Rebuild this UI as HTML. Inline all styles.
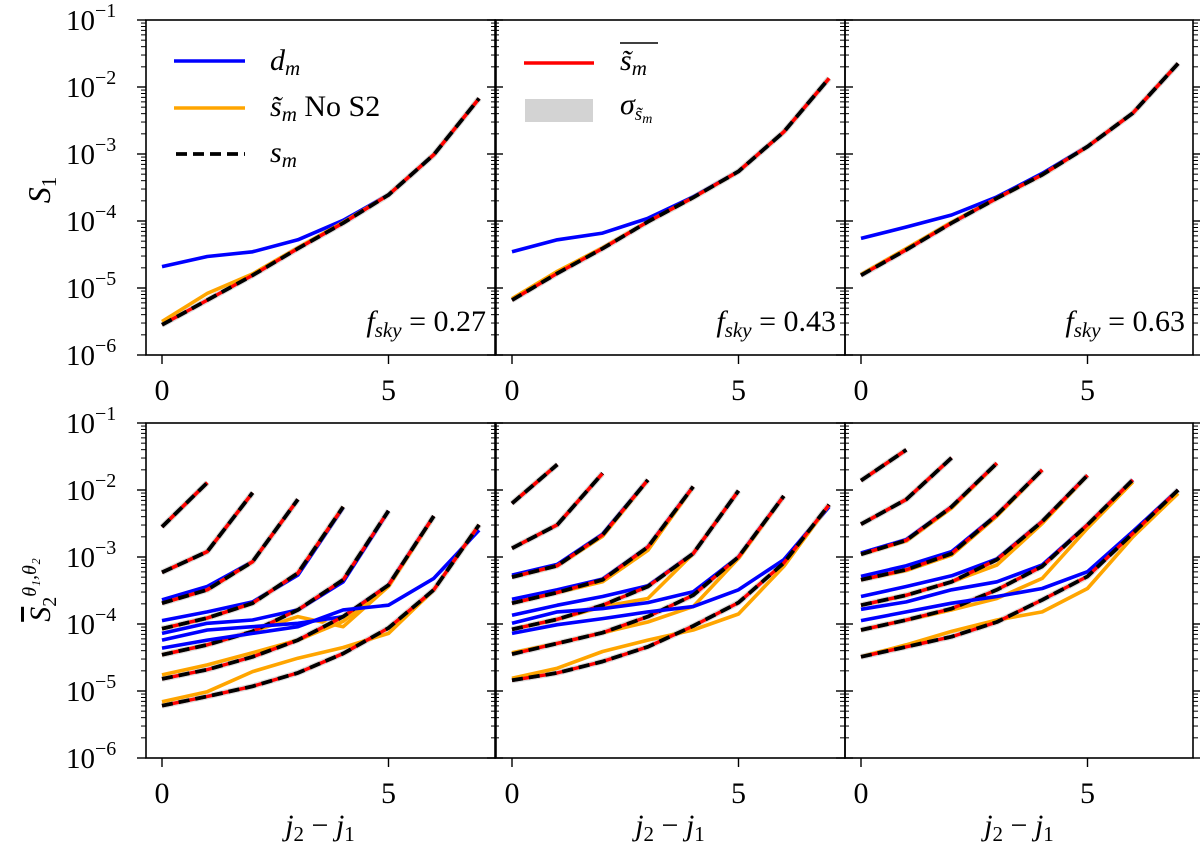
<!DOCTYPE html>
<html><head><meta charset="utf-8"><style>
html,body{margin:0;padding:0;background:#fff;}
svg{display:block;font-family:"Liberation Serif","DejaVu Serif",serif;}
</style></head><body>
<svg id="chart" width="1200" height="849" viewBox="0 0 1200 849" xmlns="http://www.w3.org/2000/svg">
<defs><clipPath id="jclip"><rect x="0" y="390" width="1200" height="18"/></clipPath></defs>
</svg>
<script>
// ---------- data (log10 values) ----------
const fskyLabels = ["0.27", "0.43", "0.63"];
const xTicks = [0, 5];
const yTickExps = [-1, -2, -3, -4, -5, -6];

// Top row: S1
const top1_d = [-4.68, -4.53, -4.46, -4.28, -3.99, -3.61, -3.01, -2.17];
const top1_s = [-5.55, -5.18, -4.81, -4.41, -4.03, -3.61, -3.01, -2.17];
const top1_o = [-5.50, -5.08, -4.79, -4.40, -4.02, -3.61, -3.01, -2.17];
const top2_d = [-4.46, -4.28, -4.18, -3.96, -3.64, -3.26, -2.67, -1.87];
const top2_s = [-5.18, -4.78, -4.41, -4.01, -3.65, -3.26, -2.67, -1.87];
const top2_o = [-5.16, -4.75, -4.40, -4.01, -3.65, -3.26, -2.67, -1.87];
const top3_d = [-4.26, -4.09, -3.91, -3.64, -3.29, -2.89, -2.39, -1.65];
const top3_s = [-4.81, -4.43, -4.03, -3.66, -3.31, -2.89, -2.39, -1.65];
const top3_o = [-4.80, -4.41, -4.02, -3.66, -3.31, -2.89, -2.39, -1.65];

// Bottom row: S2 curves (one per j1)
const bot1_s = [
  [-2.55, -1.89],
  [-3.23, -2.92, -2.04],
  [-3.69, -3.49, -3.07, -2.14],
  [-4.07, -3.91, -3.69, -3.24, -2.25],
  [-4.46, -4.31, -4.11, -3.79, -3.34, -2.31],
  [-4.82, -4.68, -4.49, -4.24, -3.89, -3.42, -2.39],
  [-5.22, -5.08, -4.93, -4.73, -4.44, -4.06, -3.49, -2.52]
];
const bot1_d = [
  [-2.55, -1.89],
  [-3.23, -2.92, -2.04],
  [-3.64, -3.44, -3.07, -2.14],
  [-3.95, -3.82, -3.67, -3.27, -2.26],
  [-4.14, -3.99, -3.94, -3.79, -3.37, -2.31],
  [-4.24, -4.09, -4.04, -3.99, -3.89, -3.42, -2.39],
  [-4.36, -4.24, -4.14, -4.04, -3.79, -3.72, -3.32, -2.60]
];
const bot1_o = [
  [-2.55, -1.89],
  [-3.23, -2.92, -2.04],
  [-3.69, -3.49, -3.07, -2.14],
  [-4.07, -3.91, -3.69, -3.24, -2.25],
  [-4.46, -4.31, -4.11, -3.89, -4.04, -3.44],
  [-4.76, -4.61, -4.43, -4.24, -3.96, -3.44, -2.39],
  [-5.16, -5.01, -4.71, -4.51, -4.35, -4.14, -3.49, -2.52]
];
const bot2_s = [
  [-2.20, -1.62],
  [-2.87, -2.52, -1.75],
  [-3.30, -3.13, -2.67, -1.85],
  [-3.69, -3.53, -3.34, -2.85, -1.95],
  [-4.08, -3.93, -3.72, -3.44, -2.95, -2.01],
  [-4.45, -4.29, -4.13, -3.89, -3.57, -3.00, -2.09],
  [-4.84, -4.73, -4.56, -4.34, -4.03, -3.68, -3.09, -2.22]
];
const bot2_d = [
  [-2.20, -1.62],
  [-2.87, -2.52, -1.75],
  [-3.27, -3.11, -2.66, -1.85],
  [-3.63, -3.49, -3.33, -2.85, -1.95],
  [-3.87, -3.72, -3.59, -3.43, -2.95, -2.01],
  [-3.99, -3.82, -3.77, -3.68, -3.52, -3.00, -2.09],
  [-4.14, -4.01, -3.92, -3.82, -3.74, -3.49, -3.04, -2.25]
];
const bot2_o = [
  [-2.20, -1.62],
  [-2.87, -2.52, -1.75],
  [-3.30, -3.13, -2.69, -1.85],
  [-3.69, -3.53, -3.37, -2.90, -1.95],
  [-4.08, -3.93, -3.74, -3.62, -2.95, -2.01],
  [-4.43, -4.29, -4.13, -3.97, -3.74, -3.02, -2.09],
  [-4.81, -4.66, -4.41, -4.24, -4.09, -3.85, -3.14, -2.22]
];
const bot3_s = [
  [-1.86, -1.40],
  [-2.51, -2.14, -1.52],
  [-2.96, -2.75, -2.25, -1.60],
  [-3.34, -3.19, -2.95, -2.37, -1.70],
  [-3.72, -3.57, -3.37, -3.04, -2.47, -1.78],
  [-4.09, -3.94, -3.77, -3.49, -3.14, -2.52, -1.85],
  [-4.49, -4.34, -4.19, -3.97, -3.64, -3.29, -2.65, -2.00]
];
const bot3_d = [
  [-1.86, -1.40],
  [-2.51, -2.14, -1.52],
  [-2.94, -2.74, -2.25, -1.60],
  [-3.29, -3.13, -2.92, -2.37, -1.70],
  [-3.59, -3.44, -3.28, -3.03, -2.47, -1.78],
  [-3.78, -3.67, -3.49, -3.37, -3.12, -2.52, -1.85],
  [-3.95, -3.82, -3.69, -3.59, -3.47, -3.22, -2.62, -2.00]
];
const bot3_o = [
  [-1.86, -1.40],
  [-2.51, -2.14, -1.52],
  [-2.96, -2.76, -2.27, -1.60],
  [-3.34, -3.20, -2.97, -2.39, -1.70],
  [-3.72, -3.57, -3.37, -3.12, -2.50, -1.78],
  [-4.09, -3.94, -3.79, -3.62, -3.32, -2.57, -1.88],
  [-4.49, -4.31, -4.11, -3.94, -3.82, -3.47, -2.70, -2.05]
];

// ---------- layout ----------
const NS = "http://www.w3.org/2000/svg";
const svg = document.getElementById("chart");
const panelLefts = [146, 496, 845];
const panelW = 348;
const rowTops = [20, 423];
const panelH = 335;
const decadePx = 67;
const unitPx = 45.3;
const x0Off = 16;

function xScale(p, v) { return panelLefts[p] + x0Off + v * unitPx; }
function yScale(r, lg) { return rowTops[r] + (-1 - lg) * decadePx; }

function mk(tag, attrs, parent) {
  const e = document.createElementNS(NS, tag);
  for (const k in attrs) e.setAttribute(k, attrs[k]);
  (parent || svg).appendChild(e);
  return e;
}

function polyline(p, r, arr, style, name, parent) {
  const pts = arr.map((v, i) => xScale(p, i).toFixed(1) + "," + yScale(r, v).toFixed(1)).join(" ");
  const el = mk("polyline", Object.assign({points: pts, fill: "none", "stroke-linejoin": "round"}, style), parent);
  
  
  return el;
}

const styleGray = {stroke: "#dcdcdc", "stroke-width": 6};
const styleBlue = {stroke: "#0000ff", "stroke-width": 3.6};
const styleOrange = {stroke: "#ffa500", "stroke-width": 3.6};
const styleRed = {stroke: "#ff0000", "stroke-width": 3.4};
const styleBlack = {stroke: "#000", "stroke-width": 3.8, "stroke-dasharray": "11,6"};

function drawSeries(p, r, d, o, s, tag) {
  const g = mk("g", {});
  
  
  polyline(p, r, s, styleGray, "sigma-band-" + tag, g);
  polyline(p, r, d, styleBlue, "d-m-line-" + tag, g);
  polyline(p, r, o, styleOrange, "s-tilde-no-s2-line-" + tag, g);
  polyline(p, r, s, styleRed, "s-tilde-mean-line-" + tag, g);
  polyline(p, r, s, styleBlack, "s-m-line-" + tag, g);
}

function drawPanel(p, r) {
  const L = panelLefts[p], T = rowTops[r];
  const g = mk("g", {});
  
  
  for (let d = -6; d <= -1; d++) {
    const y = yScale(r, d);
    mk("line", {x1: L - 9, x2: L, y1: y, y2: y, stroke: "#000", "stroke-width": 1.4}, g);
    mk("line", {x1: L + panelW, x2: L + panelW + 9, y1: y, y2: y, stroke: "#000", "stroke-width": 1.4}, g);
    if (d < -1) {
      for (let k = 2; k <= 9; k++) {
        const ym = yScale(r, d + Math.log10(k));
        mk("line", {x1: L - 5, x2: L, y1: ym, y2: ym, stroke: "#000", "stroke-width": 1}, g);
        mk("line", {x1: L + panelW, x2: L + panelW + 5, y1: ym, y2: ym, stroke: "#000", "stroke-width": 1}, g);
      }
    }
  }
  xTicks.forEach(v => {
    const x = xScale(p, v);
    mk("line", {x1: x, x2: x, y1: T + panelH, y2: T + panelH + 9, stroke: "#000", "stroke-width": 1.4}, g);
    const t = mk("text", {x: x, y: T + panelH + 45, "font-size": 30, "text-anchor": "middle"}, g);
    t.textContent = v;
    
    
  });
  if (p === 0) {
    yTickExps.forEach(e => {
      const y = yScale(r, e);
      const t = mk("text", {x: 66, y: y + 10, "font-size": 29}, g);
      
      
      const a = mk("tspan", {}, t); a.textContent = "10";
      const b = mk("tspan", {dy: -13, "font-size": 20}, t); b.textContent = "\u2212" + Math.abs(e);
    });
  }
  return g;
}

const topD = [top1_d, top2_d, top3_d], topS = [top1_s, top2_s, top3_s], topO = [top1_o, top2_o, top3_o];
const botD = [bot1_d, bot2_d, bot3_d], botS = [bot1_s, bot2_s, bot3_s], botO = [bot1_o, bot2_o, bot3_o];

for (let p = 0; p < 3; p++) {
  drawPanel(p, 0);
  drawSeries(p, 0, topD[p], topO[p], topS[p], "top-" + (p + 1));
  for (let c = 0; c < botS[p].length; c++) {
    drawSeries(p, 1, botD[p][c], botO[p][c], botS[p][c], "bottom-" + (p + 1) + "-j" + c);
  }
  drawPanel(p, 1);
}
for (let r = 0; r < 2; r++) for (let p = 0; p < 3; p++) {
  const f = mk("rect", {x: panelLefts[p], y: rowTops[r], width: panelW + (p < 2 ? 1 : 0), height: panelH, fill: "none", stroke: "#000", "stroke-width": 1.6});
  
  
}
for (let p = 0; p < 3; p++) {
  const t = mk("text", {x: panelLefts[p] + panelW - 8, y: 331, "font-size": 30, "text-anchor": "end"});
  
  
  const a = mk("tspan", {"font-style": "italic"}, t); a.textContent = "f";
  const b = mk("tspan", {"font-style": "italic", "font-size": 21, dy: 6}, t); b.textContent = "sky";
  const c = mk("tspan", {dy: -6}, t); c.textContent = " = " + fskyLabels[p];
}
</script>
<script>
(function(){
  const NS = "http://www.w3.org/2000/svg";
  const svg = document.getElementById("chart");
  function mk(tag, attrs, parent){const e=document.createElementNS(NS,tag);for(const k in attrs)e.setAttribute(k,attrs[k]);(parent||svg).appendChild(e);return e;}
  const g1 = mk("g", {});
  
  
  let l;
  l = mk("line", {x1: 174, x2: 245, y1: 61, y2: 61, stroke: "#0000ff", "stroke-width": 3.6}, g1);
   
  l = mk("line", {x1: 174, x2: 245, y1: 108, y2: 108, stroke: "#ffa500", "stroke-width": 3.6}, g1);
   
  l = mk("line", {x1: 176, x2: 245, y1: 154, y2: 154, stroke: "#000", "stroke-width": 3.8, "stroke-dasharray": "11,6"}, g1);
   
  let t;
  t = mk("text", {x: 270, y: 70, "font-size": 30, "font-style": "italic"}, g1);
   
  mk("tspan", {}, t).textContent = "d"; mk("tspan", {"font-size": 21, dy: 5}, t).textContent = "m";
  t = mk("text", {x: 270, y: 116, "font-size": 30}, g1);
   
  mk("tspan", {"font-style": "italic"}, t).textContent = "s\u0303";
  mk("tspan", {"font-size": 21, dy: 5, "font-style": "italic"}, t).textContent = "m";
  mk("tspan", {dy: -5}, t).textContent = " No S2";
  t = mk("text", {x: 270, y: 162, "font-size": 30, "font-style": "italic"}, g1);
   
  mk("tspan", {}, t).textContent = "s"; mk("tspan", {"font-size": 21, dy: 5}, t).textContent = "m";

  const g2 = mk("g", {});
  
  
  l = mk("line", {x1: 524, x2: 594, y1: 63, y2: 63, stroke: "#ff0000", "stroke-width": 3.4}, g2);
   
  l = mk("rect", {x: 525, y: 99, width: 68, height: 23, fill: "#d3d3d3"}, g2);
   
  l = mk("line", {x1: 620, x2: 658, y1: 43, y2: 43, stroke: "#000", "stroke-width": 1.5}, g2);
   
  t = mk("text", {x: 620, y: 70, "font-size": 30, "font-style": "italic"}, g2);
   
  mk("tspan", {}, t).textContent = "s\u0303"; mk("tspan", {"font-size": 21, dy: 5}, t).textContent = "m";
  t = mk("text", {x: 620, y: 114, "font-size": 30, "font-style": "italic"}, g2);
   
  mk("tspan", {}, t).textContent = "\u03c3"; mk("tspan", {"font-size": 19, dy: 6}, t).textContent = "s\u0303";
  mk("tspan", {"font-size": 14, dy: 3}, t).textContent = "m";

  t = mk("text", {x: 0, y: 0, "font-size": 32, "font-style": "italic", transform: "translate(50,190) rotate(-90)", "text-anchor": "middle"});
   
  mk("tspan", {}, t).textContent = "S"; mk("tspan", {"font-size": 21, dy: 6, "font-style": "normal"}, t).textContent = "1";
  t = mk("text", {x: 0, y: 0, "font-size": 30, "font-style": "italic", transform: "translate(50,590) rotate(-90)", "text-anchor": "middle"});
   
  mk("tspan", {"text-decoration": "overline"}, t).textContent = "S";
  mk("tspan", {"font-size": 20, dy: 6, "font-style": "normal"}, t).textContent = "2";
  mk("tspan", {"font-size": 20, dy: -20}, t).textContent = "\u03b8\u2081,\u03b8\u2082";
  const lefts = [146, 496, 845];
  lefts.forEach((L, i) => {
    const tt = mk("text", {x: L + 174, y: 835, "font-size": 30, "text-anchor": "middle", "font-style": "italic"});
     
    mk("tspan", {}, tt).textContent = "j";
    mk("tspan", {"font-size": 21, dy: 6, "font-style": "normal"}, tt).textContent = "2";
    mk("tspan", {dy: -6, "font-style": "normal"}, tt).textContent = " \u2212 ";
    mk("tspan", {}, tt).textContent = "j";
    mk("tspan", {"font-size": 21, dy: 6, "font-style": "normal"}, tt).textContent = "1";
    const tj = mk("text", {x: L + 174, y: 432, "font-size": 30, "text-anchor": "middle", "font-style": "italic", "clip-path": "url(#jclip)"});
     
    tj.textContent = "j";
  });
})();
</script>
</body></html>
